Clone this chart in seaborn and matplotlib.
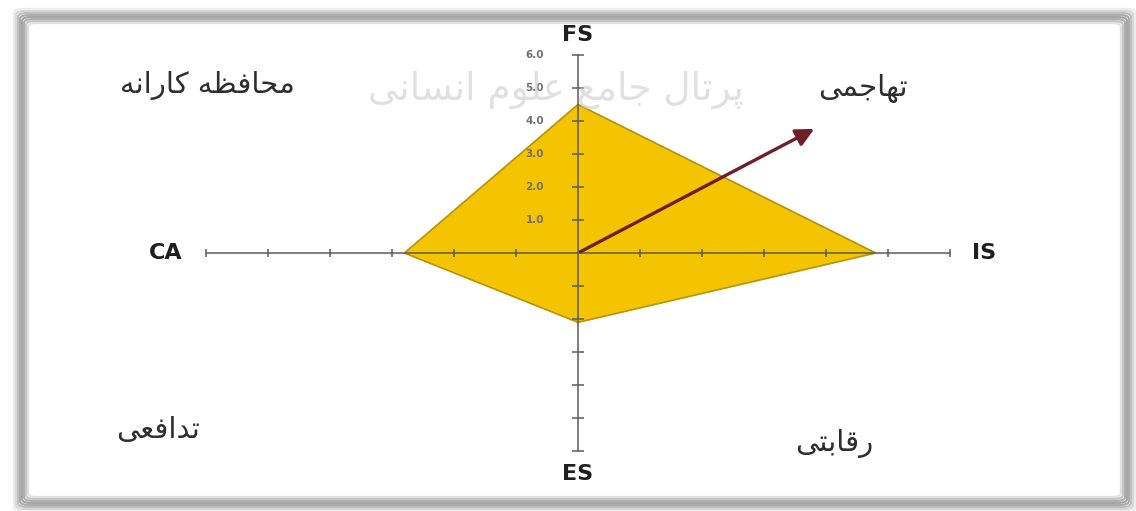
import numpy as np
import seaborn as sns
import matplotlib.pyplot as plt
from matplotlib.patches import FancyBboxPatch

# --- data ---
axis_names = ['FS', 'IS', 'ES', 'CA']
axis_x = [0.0, 4.8, 0.0, -2.8]
axis_y = [4.5, 0.0, -2.1, 0.0]
vector = (3.85, 3.8)
tick_values = [-6, -5, -4, -3, -2, -1, 1, 2, 3, 4, 5, 6]
fs_tick_labels = ['1.0', '2.0', '3.0', '4.0', '5.0', '6.0']
quadrant_names = ['محافظه کارانه', 'تهاجمی', 'تدافعی', 'رقابتی']
watermark = 'پرتال جامع علوم انسانی'

# simple arabic/persian shaping: (isolated, final, initial, medial)
FORMS = {
    'ا': ('\uFE8D', '\uFE8E'), 'د': ('\uFEA9', '\uFEAA'), 'ر': ('\uFEAD', '\uFEAE'),
    'و': ('\uFEED', '\uFEEE'),
    'ب': ('\uFE8F', '\uFE90', '\uFE91', '\uFE92'), 'ت': ('\uFE95', '\uFE96', '\uFE97', '\uFE98'),
    'ج': ('\uFE9D', '\uFE9E', '\uFE9F', '\uFEA0'), 'ح': ('\uFEA1', '\uFEA2', '\uFEA3', '\uFEA4'),
    'س': ('\uFEB1', '\uFEB2', '\uFEB3', '\uFEB4'), 'ظ': ('\uFEC5', '\uFEC6', '\uFEC7', '\uFEC8'),
    'ع': ('\uFEC9', '\uFECA', '\uFECB', '\uFECC'), 'ف': ('\uFED1', '\uFED2', '\uFED3', '\uFED4'),
    'ق': ('\uFED5', '\uFED6', '\uFED7', '\uFED8'), 'ل': ('\uFEDD', '\uFEDE', '\uFEDF', '\uFEE0'),
    'م': ('\uFEE1', '\uFEE2', '\uFEE3', '\uFEE4'), 'ن': ('\uFEE5', '\uFEE6', '\uFEE7', '\uFEE8'),
    'ه': ('\uFEE9', '\uFEEA', '\uFEEB', '\uFEEC'), 'ک': ('\uFB8E', '\uFB8F', '\uFB90', '\uFB91'),
    'ی': ('\uFBFC', '\uFBFD', '\uFBFE', '\uFBFF'), 'پ': ('\uFB56', '\uFB57', '\uFB58', '\uFB59'),
}


def shape(text):
    out = []
    for i, ch in enumerate(text):
        if ch not in FORMS:
            out.append(ch)
            continue
        prev = text[i - 1] if i > 0 else ''
        nxt = text[i + 1] if i + 1 < len(text) else ''
        join_prev = prev in FORMS and len(FORMS[prev]) == 4
        join_next = nxt in FORMS and len(FORMS[ch]) == 4
        f = FORMS[ch]
        if join_prev and join_next:
            out.append(f[3])
        elif join_prev:
            out.append(f[1])
        elif join_next:
            out.append(f[2])
        else:
            out.append(f[0])
    return ''.join(out)[::-1]


sns.set_theme(style='white')
plt.rcParams['font.family'] = ['DejaVu Sans']

fig = plt.figure(figsize=(11.36, 5.11), dpi=100)
ax = fig.add_axes([0, 0, 1, 1])
ax.set_xlim(-578 / 62, (1136 - 578) / 62)
ax.set_ylim(-258 / 33, 253 / 33)
ax.axis('off')

# frame with soft gray shadow band
grays = ['#e2e2e2', '#c6c6c6', '#b0b0b0', '#a6a6a6', '#acacac', '#bebebe', '#d6d6d6', '#ececec']
for k, g in enumerate(grays):
    x0, y0 = (28 - 2 * k) / 1136, (14 - 2 * k) / 511
    w, h = (1121 - 28 + 4 * k) / 1136, (497 - 23 + 4 * k) / 511
    fig.patches.append(FancyBboxPatch((x0, y0), w, h, boxstyle='round,pad=0,rounding_size=0.008',
                                      transform=fig.transFigure, fill=False, ec=g, lw=1.6, zorder=0))

# polygon
px = axis_x + [axis_x[0]]
py = axis_y + [axis_y[0]]
ax.fill(px, py, color='#f5c400', zorder=2)
sns.lineplot(x=px, y=py, sort=False, estimator=None, color='#b59612', lw=1.2, ax=ax, zorder=3)

# axes with ticks
ax.plot([-6, 6], [0, 0], color='#5b5b5b', lw=1.1, zorder=4)
ax.plot([0, 0], [-6, 6], color='#5b5b5b', lw=1.1, zorder=4)
ax.plot(tick_values, [0] * len(tick_values), ls='none', marker='|', ms=6, mew=1.1, color='#5b5b5b', zorder=4)
ax.plot([0] * len(tick_values), tick_values, ls='none', marker='_', ms=8, mew=1.1, color='#5b5b5b', zorder=4)
for v, lab in zip([1, 2, 3, 4, 5, 6], fs_tick_labels):
    ax.text(-0.55, v, lab, fontsize=7.5, fontweight='bold', color='#707070', ha='right', va='center', zorder=5)

# watermark
ax.text(-0.35, 4.95, shape(watermark), fontsize=27, color='#c8c8c8', alpha=0.55,
        ha='center', va='center', zorder=5.5)

# direction vector
ax.annotate('', xy=vector, xytext=(0, 0),
            arrowprops=dict(arrowstyle='-|>,head_length=0.9,head_width=0.45', color='#6e1f2b', lw=2.4),
            zorder=6)

# axis names
name_pos = {'FS': (0, 6.6), 'IS': (6.55, 0), 'ES': (0, -6.7), 'CA': (-6.65, 0)}
for n in axis_names:
    ax.text(*name_pos[n], n, fontsize=16, fontweight='bold', color='#1e1e1e',
            ha='center', va='center', zorder=5)

# quadrant names
quad_pos = [(-5.97, 5.09), (4.6, 5.0), (-6.77, -5.36), (4.13, -5.76)]
for (qx, qy), q in zip(quad_pos, quadrant_names):
    ax.text(qx, qy, shape(q), fontsize=21, color='#2e2e2e', ha='center', va='center', zorder=5)

fig.savefig('out.png', dpi=100)
